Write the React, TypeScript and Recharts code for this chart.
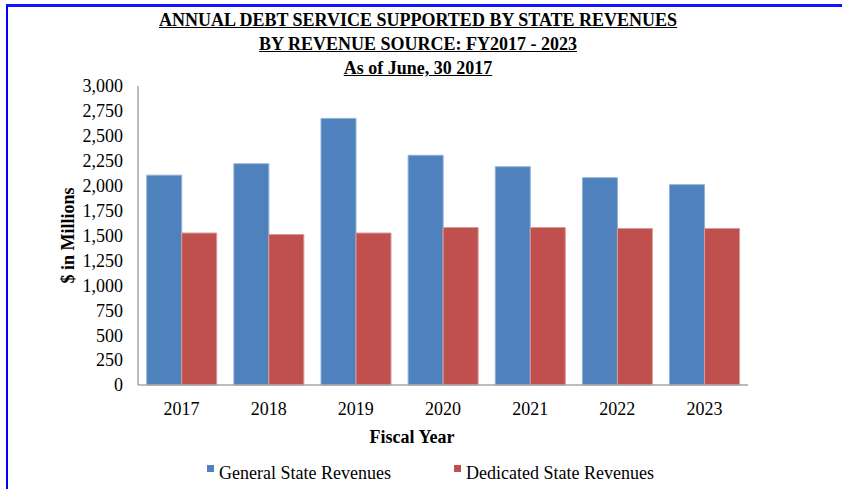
import React from 'react';
import { BarChart, Bar, XAxis, YAxis, Label, Legend } from 'recharts';

const years = ['2017', '2018', '2019', '2020', '2021', '2022', '2023'];
const generalStateRevenues = [2105, 2220, 2675, 2305, 2190, 2080, 2010];
const dedicatedStateRevenues = [1525, 1510, 1525, 1580, 1580, 1570, 1570];
const yTicks = [0, 250, 500, 750, 1000, 1250, 1500, 1750, 2000, 2250, 2500, 2750, 3000];
const seriesNames = ['General State Revenues', 'Dedicated State Revenues'];
const titleLines = [
  'ANNUAL DEBT SERVICE SUPPORTED BY STATE REVENUES',
  'BY REVENUE SOURCE: FY2017 - 2023',
  'As of June, 30 2017',
];

const data = years.map((y, i) => ({
  year: y,
  general: generalStateRevenues[i],
  dedicated: dedicatedStateRevenues[i],
}));

const FONT = "'Liberation Serif', 'Times New Roman', Times, serif";
const legendLeft = [207, 454];

const renderLegend = (props: any) => {
  const payload = [...(props.payload || [])].sort(
    (a: any, b: any) => seriesNames.indexOf(a.value) - seriesNames.indexOf(b.value)
  );
  return (
    <div style={{ position: 'relative', width: 842, height: 24, fontFamily: FONT, fontSize: 18, color: '#000' }}>
      {payload.map((entry: any, i: number) => (
        <div
          key={entry.value}
          style={{ position: 'absolute', left: legendLeft[i], top: 0, display: 'flex', alignItems: 'flex-start', whiteSpace: 'nowrap' }}
        >
          <span style={{ display: 'inline-block', width: 7, height: 7, background: entry.color, marginTop: 4, marginRight: 5 }} />
          <span style={{ lineHeight: '24px' }}>{entry.value}</span>
        </div>
      ))}
    </div>
  );
};

export default function App() {
  return (
    <div style={{ position: 'relative', width: 842, height: 489, background: '#fff', overflow: 'hidden' }}>
      <style>{`body{margin:0;}`}</style>
      <div
        style={{
          position: 'absolute',
          left: 6,
          top: 4,
          width: 842,
          height: 489,
          borderTop: '3px solid #1414ff',
          borderLeft: '2px solid #0000ff',
          boxSizing: 'border-box',
        }}
      />
      <div
        style={{
          position: 'absolute',
          left: 0,
          top: 8,
          width: 836,
          textAlign: 'center',
          fontFamily: FONT,
          fontWeight: 'bold',
          fontSize: 18,
          lineHeight: '24px',
          color: '#000',
          zIndex: 2,
        }}
      >
        {titleLines.map((t) => (
          <div key={t} style={{ textDecoration: 'underline' }}>{t}</div>
        ))}
      </div>
      <BarChart
        width={842}
        height={489}
        data={data}
        margin={{ top: 86, right: 94, left: 68, bottom: 20 }}
        barCategoryGap="10%"
        barGap={0}
        style={{ fontFamily: FONT }}
      >
        <XAxis
          dataKey="year"
          axisLine={{ stroke: '#a6a6a6', strokeWidth: 1.5 }}
          tickLine={false}
          tickMargin={11}
          height={60}
          interval={0}
          tick={{ fill: '#000', fontSize: 18, fontFamily: FONT }}
        >
          <Label
            value="Fiscal Year"
            position="insideBottom"
            offset={2}
            dx={-31}
            style={{ fontWeight: 'bold', fontSize: 18, fill: '#000', fontFamily: FONT }}
          />
        </XAxis>
        <YAxis
          width={70}
          domain={[0, 3000]}
          ticks={yTicks}
          interval={0}
          axisLine={{ stroke: '#a6a6a6', strokeWidth: 1.5 }}
          tickLine={false}
          tickMargin={9}
          tick={{ fill: '#000', fontSize: 18, fontFamily: FONT }}
          tickFormatter={(v: number) => v.toLocaleString('en-US')}
        >
          <Label
            value="$ in Millions"
            angle={-90}
            position="insideLeft"
            offset={0}
            style={{ fontWeight: 'bold', fontSize: 18, fill: '#000', fontFamily: FONT, textAnchor: 'middle' }}
          />
        </YAxis>
        <Legend
          verticalAlign="bottom"
          content={renderLegend}
          wrapperStyle={{ bottom: 4, left: 0, width: 842 }}
        />
        <Bar
          dataKey="general"
          name={seriesNames[0]}
          fill="#4F81BD"
          stroke="#8fb0d8"
          strokeWidth={1}
          isAnimationActive={false}
        />
        <Bar
          dataKey="dedicated"
          name={seriesNames[1]}
          fill="#C0504D"
          stroke="#d99a98"
          strokeWidth={1}
          isAnimationActive={false}
        />
      </BarChart>
    </div>
  );
}
